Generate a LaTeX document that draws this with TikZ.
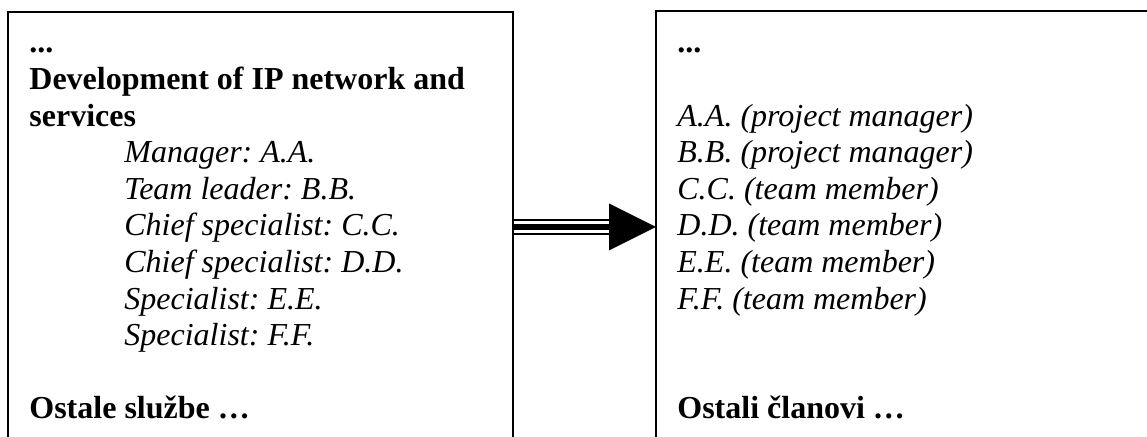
\documentclass[tikz,border=0pt]{standalone}
\usepackage{fontspec}
\setmainfont{Liberation Serif}
\frenchspacing
\usetikzlibrary{calc}
\begin{document}
\begin{tikzpicture}[
		x=0.5pt, y=-0.5pt,
		txt/.style={anchor=base west, inner sep=0pt, font=\fontsize{16pt}{18.3pt}\selectfont},
		hd/.style={txt, font=\fontsize{16pt}{18.3pt}\selectfont\bfseries},
		role/.style={txt, font=\fontsize{16pt}{18.3pt}\selectfont\itshape},
		frame/.style={line width=1pt}
	]
		\useasboundingbox (0,0) rectangle (1147,437);
		% double-ruled shaft with a solid head
		\coordinate (unitsE) at (513,227);
		\coordinate (teamW) at (656,227);
		\coordinate (tipbase) at (609,227);
		\draw[line width=7.6pt] (unitsE) -- (tipbase);
		\draw[line width=5.6pt, white] (unitsE) -- (tipbase);
		\draw[line width=3.3pt] (unitsE) -- (tipbase);
		\fill (teamW) -- ($(tipbase)+(0,-23.5)$) -- ($(tipbase)+(0,23.5)$) -- cycle;
		% left box
		\draw[frame] (8,437) |- (513,12) -- (513,437);
		\node[hd] (ldots) at (29,53) {...};
		\node[hd] (dev1) at (29,89.6) {Development of IP network and};
		\node[hd] (dev2) at (29,126.2) {services};
		\node[role] (mgr) at (124,162.8) {Manager: A.A.};
		\node[role] (lead) at (124,199.4) {Team leader: B.B.};
		\node[role] (chief1) at (124,236) {Chief specialist: C.C.};
		\node[role] (chief2) at (124,272.6) {Chief specialist: D.D.};
		\node[role] (spec1) at (124,309.2) {Specialist: E.E.};
		\node[role] (spec2) at (124,345.8) {Specialist: F.F.};
		\node[hd] (other) at (29,419) {Ostale službe …};
		% right box
		\draw[frame] (656,437) |- (1147,11);
		\node[hd] (rdots) at (677,53) {...};
		\node[role] (aa) at (677,126.2) {A.A. (project manager)};
		\node[role] (bb) at (677,162.8) {B.B. (project manager)};
		\node[role] (cc) at (677,199.4) {C.C. (team member)};
		\node[role] (dd) at (677,236) {D.D. (team member)};
		\node[role] (ee) at (677,272.6) {E.E. (team member)};
		\node[role] (ff) at (677,309.2) {F.F. (team member)};
		\node[hd] (rest) at (677,419) {Ostali članovi …};
	\end{tikzpicture}
\end{document}
